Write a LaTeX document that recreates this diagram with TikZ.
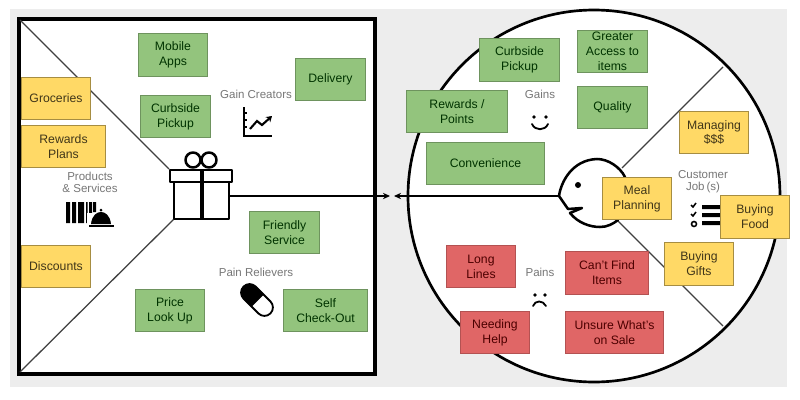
\documentclass[tikz,border=0pt]{standalone}
\usepackage{fontspec}
\setmainfont{Liberation Sans}
\usepackage{xcolor}
\usetikzlibrary{arrows.meta,calc,positioning}
\definecolor{canvasgray}{HTML}{EDEDED}
\definecolor{boxgreen}{HTML}{93C47D}
\definecolor{boxyellow}{HTML}{FFD966}
\definecolor{boxred}{HTML}{E06666}
\definecolor{labelgray}{HTML}{777777}

\begin{document}
\begin{tikzpicture}[x=0.25mm, y=-0.25mm]
	\tikzstyle{every node}=[font=\fontsize{8.7}{10.6}\selectfont, align=center, inner sep=0pt]
	\tikzstyle{gainbox}=[draw=boxgreen!75!black, line width=0.7pt, fill=boxgreen, text=green!20!black, minimum width=17.4mm, minimum height=10.6mm]
	\tikzstyle{jobbox}=[draw=boxyellow!65!black, line width=0.7pt, fill=boxyellow, text=black!75!boxyellow, minimum width=17.4mm, minimum height=10.6mm]
	\tikzstyle{painbox}=[draw=boxred!80!black, line width=0.7pt, fill=boxred, text=red!30!black, minimum width=17.4mm, minimum height=10.6mm]
	\tikzstyle{heading}=[text=labelgray, font=\fontsize{8.2}{8.6}\selectfont]
	\tikzstyle{divider}=[line width=0.9pt, draw=black!75]
	\tikzstyle{icon}=[line width=1.8pt, line join=round, line cap=round]
	\useasboundingbox (0,0) rectangle (800,400);
	\fill [canvasgray] (10,9) rectangle (787,387);

	% value map and customer circle
	\draw [line width=3pt, fill=white] (19,19) rectangle (375,374);
	\draw [line width=1.9pt, fill=white] (594,196) circle (186);

	% corners the dividers run between
	\coordinate (boxtl) at (20,20);
	\coordinate (boxbl) at (20,372);
	\coordinate (gifttl) at (169,169);
	\coordinate (giftbl) at (174,219);
	\coordinate (giftr) at (229,196);
	\coordinate (tipr) at (390,196);
	\coordinate (tipl) at (394,196);
	\coordinate (nose) at (559,196);
	\coordinate (headtr) at (622,168);
	\coordinate (headbr) at (618,221);
	\coordinate (rimtr) at (723,67);
	\coordinate (rimbr) at (723,326);
	\draw [divider] (boxtl) -- (gifttl);
	\draw [divider] (boxbl) -- (giftbl);
	\draw [divider] (headtr) -- (rimtr);
	\draw [divider] (headbr) -- (rimbr);
	\draw [line width=0.9pt, -{Stealth[length=5pt,width=4.5pt]}] (giftr) -- (tipr);
	\draw [line width=0.9pt, -{Stealth[length=5pt,width=4.5pt]}] (nose) -- (tipl);

	% gift
	\draw [icon] (174,182) rectangle (229,219);
	\draw [icon, fill=white] (170,170) rectangle (232,182);
	\draw [line width=2.4pt] (202,170) -- (202,219);
	\draw [icon] (193,160) circle (7.5);
	\draw [icon] (209,160) circle (7.5);

	% head
	\draw [icon] (nose) .. controls (561,182) and (572,160) .. (597,159) .. controls (608,159) and (620,167) .. (625,177);
	\draw [icon] (nose) -- (568,209) -- (582,208) -- (570,213) .. controls (578,223) and (590,227) .. (600,227) .. controls (607,227) and (613,224) .. (618,220);
	\fill (578,185) circle (3);

	% chart
	\draw [line width=1pt] (244,107) -- (244,136) -- (272,136);
	\draw [line width=1pt] (244,113) -- (247,113) (244,120) -- (247,120) (244,127) -- (247,127);
	\draw [line width=1.5pt, -{Stealth[length=4pt,width=5pt]}] (250,129) -- (257,121) -- (262,125) -- (272,116);

	% barcode and bell
	\fill (66,202) rectangle (70,223) (72,202) rectangle (76,223) (78,202) rectangle (84,223);
	\fill (86,202) rectangle (87.5,223) (89,202) rectangle (92,223) (93,202) rectangle (96,212);
	\fill [white] (87,213) rectangle (116,229);
	\fill (91,224) .. controls (92,215) and (97,212) .. (101,212) .. controls (105,212) and (110,215) .. (111,224) -- cycle;
	\fill (89,225) rectangle (114,227);
	\fill (101,210) circle (1.5);

	% pill
	\begin{scope}[shift={(257,300)}, rotate=-45]
		\draw [line width=1.3pt, fill=white] (0,-8.5) -- (10.5,-8.5) arc (-90:90:8.5) -- (-10.5,8.5) arc (90:270:8.5) -- cycle;
		\fill (1,-9) -- (-10.5,-9) arc (270:90:9) -- (1,9) -- cycle;
	\end{scope}

	% smile and frown
	\fill (534,117) circle (1.8) (546,117) circle (1.8);
	\draw [line width=1.3pt, line cap=round] (532,124) .. controls (535,131) and (545,131) .. (548,124);
	\fill (535,295) circle (1.8) (545,295) circle (1.8);
	\draw [line width=1.3pt, line cap=round] (533,306) .. controls (535,300) and (543,300) .. (546,306);

	% job list
	\draw [line width=1.1pt] (691,205) -- (693,207) -- (696,203);
	\draw [line width=1.1pt] (691,214) -- (693,216) -- (696,212);
	\draw [line width=1.1pt] (694,224) circle (2.5);
	\fill (702,205) rectangle (722,209) (702,213) rectangle (722,217) (702,221) rectangle (722,225);

	% section headings
	\node [heading] (gaincreators) at (256,94) {Gain Creators};
	\node [heading] (products) at (90,182) {Products\\\& Services};
	\node [heading] (painrelievers) at (256,272) {Pain Relievers};
	\node [heading] (gains) at (540,94) {Gains};
	\node [heading] (pains) at (540,272) {Pains};
	\node [heading] (customerjobs) at (703,182) {Customer\\Job\,(s)};

	% value map boxes
	\node [gainbox] (mobile) at (173,55) {Mobile\\Apps};
	\node [gainbox] (delivery) at (330.5,79.5) {Delivery};
	\node [gainbox] (curbsidemap) at (175.5,116.5) {Curbside\\Pickup};
	\node [jobbox] (groceries) at (56,98.5) {Groceries};
	\node [jobbox, minimum width=21mm] (rewardsplans) at (63.5,146.5) {Rewards\\Plans};
	\node [jobbox] (discounts) at (56,266.5) {Discounts};
	\node [gainbox] (friendly) at (284.5,232.5) {Friendly\\Service};
	\node [gainbox] (price) at (170,310.5) {Price\\Look Up};
	\node [gainbox, minimum width=21mm] (selfcheck) at (325.5,310.5) {Self\\Check-Out};

	% customer boxes
	\node [gainbox, minimum width=20mm] (curbsidecust) at (519.5,60) {Curbside\\Pickup};
	\node [gainbox] (access) at (612.5,51.5) {Greater\\Access to\\items};
	\node [gainbox, minimum width=25.2mm] (points) at (457,111.5) {Rewards /\\Points};
	\node [gainbox] (quality) at (612.5,107.5) {Quality};
	\node [gainbox, minimum width=29.6mm] (convenience) at (485.5,163.5) {Convenience};
	\node [jobbox] (managing) at (714,132.5) {Managing\\\$\$\$};
	\node [jobbox] (meal) at (637,198.5) {Meal\\Planning};
	\node [jobbox] (food) at (755,217) {Buying\\Food};
	\node [jobbox] (gifts) at (699,264) {Buying\\Gifts};
	\node [painbox] (lines) at (481,266.5) {Long\\Lines};
	\node [painbox, minimum width=20.9mm] (cantfind) at (607,273) {Can't Find\\Items};
	\node [painbox] (help) at (495,332.5) {Needing\\Help};
	\node [painbox, minimum width=24.6mm] (unsure) at (614.5,332.5) {Unsure What's\\on Sale};
\end{tikzpicture}
\end{document}
